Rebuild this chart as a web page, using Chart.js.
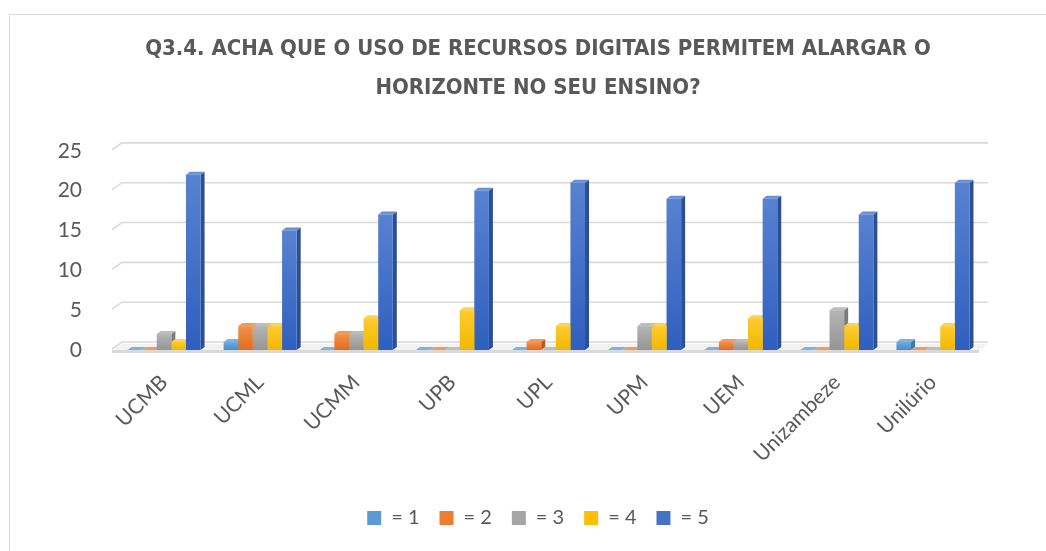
<!DOCTYPE html>
<html>
<head>
<meta charset="utf-8">
<script src="https://cdn.jsdelivr.net/npm/chart.js@4.4.1/dist/chart.umd.min.js"></script>
<style>
	body	{ margin: 0; background: #fff; overflow: hidden; }
	#frame	{ position: absolute; left: 9px; top: 14px; width: 1038px; height: 538px; border: 1px solid #d9d9d9; background: #fff; }
	#chart	{ display: block; }
</style>
</head>
<body>
<div id="frame"><canvas id="chart" width="1038" height="538"></canvas></div>
<script>
// categorias e séries
const categories	= [ "UCMB", "UCML", "UCMM", "UPB", "UPL", "UPM", "UEM", "Unizambeze", "Unilúrio" ];
const seriesNames	= [ "= 1", "= 2", "= 3", "= 4", "= 5" ];
const v1	= [ 0, 1, 0, 0, 0, 0, 0, 0, 1 ];
const v2	= [ 0, 3, 2, 0, 1, 0, 1, 0, 0 ];
const v3	= [ 2, 3, 2, 0, 0, 3, 1, 5, 0 ];
const v4	= [ 1, 3, 4, 5, 3, 3, 4, 3, 3 ];
const v5	= [ 22, 15, 17, 20, 21, 19, 19, 17, 21 ];
const yTicks	= [ 0, 5, 10, 15, 20, 25 ];
const titleLines	= [ "Q3.4. ACHA QUE O USO DE RECURSOS DIGITAIS PERMITEM ALARGAR O", "HORIZONTE NO SEU ENSINO?" ];

const colors	= [ "#5b9bd5", "#ed7d31", "#a5a5a5", "#ffc000", "#4472c4" ];
const lights	= [ "#6fa9de", "#f3924d", "#b4b4b4", "#ffcb2e", "#5882d1" ];
const darks		= [ "#4a8bcb", "#e26b1b", "#959595", "#f0b800", "#2f5fbf" ];
const sides		= [ "#3f78ad", "#b85a1c", "#7b7b7b", "#c49400", "#2c4f91" ];
const tops		= [ "#7fb2e0", "#f29a5c", "#bdbdbd", "#ffd24d", "#6a8fd3" ];

const DX	= 4;
const DY	= 3;
const WALL	= 7;
const TEXT	= "#595959";
const FONT	= "Lato, 'DejaVu Sans', sans-serif";

// grade e faces 3D desenhadas atrás das faces frontais
const depthPlugin = {
	id: "depth3d",
	beforeDatasetsDraw( chart ) {
		const ctx	= chart.ctx;
		const y		= chart.scales.y;
		const a		= chart.chartArea;

		ctx.save();
		ctx.strokeStyle	= "#d9d9d9";
		ctx.lineWidth	= 1.6;
		for ( const t of yTicks ) {
			const py = y.getPixelForValue( t ) - 1;
			ctx.beginPath();
			ctx.moveTo( a.left - 4, py );
			ctx.lineTo( a.left - 4 + WALL + 3, py - WALL );
			ctx.lineTo( a.right + WALL, py - WALL );
			ctx.stroke();
		}
		// piso
		const p0 = y.getPixelForValue( 0 );
		ctx.fillStyle	= "#f2f2f2";
		ctx.beginPath();
		ctx.moveTo( a.left - 4, p0 + 1 );
		ctx.lineTo( a.right - 2, p0 + 1 );
		ctx.lineTo( a.right + WALL, p0 - WALL + 1 );
		ctx.lineTo( a.left + WALL - 1, p0 - WALL + 1 );
		ctx.closePath();
		ctx.fill();
		ctx.lineWidth	= 3;
		ctx.beginPath();
		ctx.moveTo( a.left - 4, p0 + 1.5 );
		ctx.lineTo( a.right - 2, p0 + 1.5 );
		ctx.stroke();

		chart.data.datasets.forEach( ( ds, di ) => {
			const meta = chart.getDatasetMeta( di );
			meta.data.forEach( bar => {
				const l	= bar.x - bar.width / 2;
				const r	= bar.x + bar.width / 2;
				const t	= bar.y;
				const b	= bar.base;
				// lado
				ctx.fillStyle = sides[ di ];
				ctx.beginPath();
				ctx.moveTo( r, t );
				ctx.lineTo( r + DX, t - DY );
				ctx.lineTo( r + DX, b - DY );
				ctx.lineTo( r, b );
				ctx.closePath();
				ctx.fill();
				// topo
				ctx.fillStyle = tops[ di ];
				ctx.beginPath();
				ctx.moveTo( l, t );
				ctx.lineTo( l + DX, t - DY );
				ctx.lineTo( r + DX, t - DY );
				ctx.lineTo( r, t );
				ctx.closePath();
				ctx.fill();
			} );
		} );
		ctx.restore();
	}
};

const values	= [ v1, v2, v3, v4, v5 ];

function frontFill( c ) {
	const i	= c.datasetIndex;
	const y	= c.chart.scales.y;
	if ( !y || c.parsed == null || !isFinite( y.getPixelForValue( 0 ) ) )
		return colors[ i ];
	const top	= y.getPixelForValue( c.parsed.y );
	const bot	= y.getPixelForValue( 0 );
	if ( bot - top < 1 )
		return colors[ i ];
	const g = c.chart.ctx.createLinearGradient( 0, top, 0, bot );
	g.addColorStop( 0, lights[ i ] );
	g.addColorStop( 1, darks[ i ] );
	return g;
}

const datasets	= seriesNames.map( ( name, i ) => ( {
	label: name,
	data: values[ i ],
	backgroundColor: frontFill,
	borderWidth: 0,
	categoryPercentage: 0.76,
	barPercentage: 1.0
} ) );

new Chart( document.getElementById( "chart" ), {
	type: "bar",
	data: { labels: categories, datasets: datasets },
	plugins: [ depthPlugin ],
	options: {
		responsive: false,
		animation: false,
		layout: { padding: { left: 18, right: 0, top: 0, bottom: 15 } },
		plugins: {
			title: {
				display: true,
				text: titleLines,
				color: TEXT,
				font: { family: "'Liberation Sans Narrow', 'DejaVu Sans Condensed', sans-serif", size: 22, weight: "bold", lineHeight: 1.77 },
				padding: { top: 15, bottom: 43 }
			},
			legend: {
				position: "bottom",
				labels: {
					color: TEXT,
					font: { family: FONT, size: 20 },
					boxWidth: 14,
					boxHeight: 14,
					padding: 20,
					generateLabels: chart => {
						const items = Chart.defaults.plugins.legend.labels.generateLabels( chart );
						items.forEach( ( it, i ) => { it.fillStyle = colors[ i ]; it.strokeStyle = colors[ i ]; it.lineWidth = 0; } );
						return items;
					}
				}
			},
			tooltip: { enabled: false }
		},
		scales: {
			x: {
				grid: { display: false },
				border: { display: false },
				ticks: {
					color: TEXT,
					font: { family: FONT, size: 21 },
					minRotation: 45,
					maxRotation: 45,
					padding: 12
				},
				afterFit: s => { s.height = 138; }
			},
			y: {
				min: 0,
				max: 25,
				grid: { display: false },
				border: { display: false },
				ticks: {
					stepSize: 5,
					color: TEXT,
					font: { family: FONT, size: 21 },
					padding: 26
				},
				afterFit: s => { s.width = 88; }
			},
			yRight: {
				position: "right",
				grid: { display: false },
				border: { display: false },
				ticks: { display: false },
				afterFit: s => { s.width = 67; }
			}
		}
	}
} );
</script>
</body>
</html>
